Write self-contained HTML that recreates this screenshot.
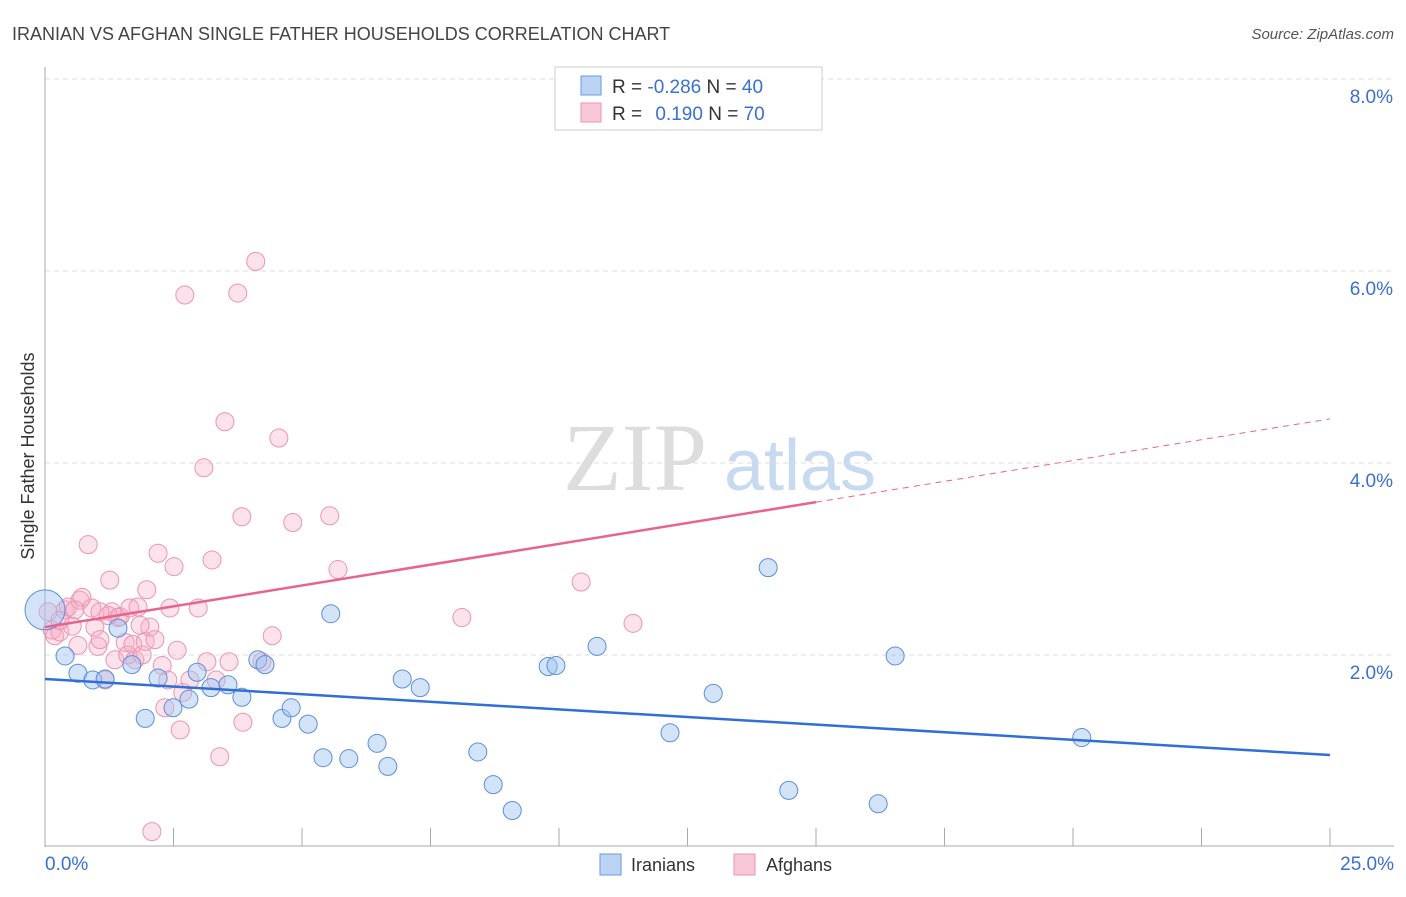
<!DOCTYPE html>
<html><head><meta charset="utf-8"><style>
body{margin:0;background:#fff;font-family:"Liberation Sans",sans-serif;}
svg text{font-family:"Liberation Sans",sans-serif;}
</style></head><body>
<svg id="chart" width="1406" height="892" viewBox="0 0 1406 892" xmlns="http://www.w3.org/2000/svg">
<text x="12" y="40" font-size="18" fill="#444">IRANIAN VS AFGHAN SINGLE FATHER HOUSEHOLDS CORRELATION CHART</text>
<text x="1394" y="39" font-size="15" fill="#555" text-anchor="end" font-style="italic">Source: ZipAtlas.com</text>
<g>
<text x="635" y="490" font-size="96" fill="#ddd" text-anchor="middle" font-family="Liberation Serif" style="font-family:'Liberation Serif',serif">ZIP</text>
<text x="800" y="490" font-size="72" fill="#c8daf0" text-anchor="middle">atlas</text>
</g>
<g id="grid"></g>
<g id="axes"></g>
<g id="marks"></g>
<text transform="translate(34,456) rotate(-90)" font-size="18" fill="#333" text-anchor="middle">Single Father Households</text>
<g>
<rect x="555" y="67" width="267" height="63" fill="#fff" stroke="#ccc"/>
<rect x="581" y="76" width="20" height="19" fill="#bcd4f4" stroke="#6a9ae0"/>
<rect x="581" y="103" width="20" height="19" fill="#f9c8d8" stroke="#ec94b2"/>
<text x="612" y="93" font-size="19" fill="#333">R = <tspan fill="#3a70d0">-0.286</tspan>   N = <tspan fill="#3a70d0">40</tspan></text>
<text x="612" y="120" font-size="19" fill="#333">R =  <tspan fill="#3a70d0" dx="8">0.190</tspan>   N = <tspan fill="#3a70d0">70</tspan></text>
</g>
<g>
<rect x="600" y="854" width="21" height="21" fill="#bcd4f4" stroke="#6a9ae0"/>
<text x="631" y="871" font-size="18" fill="#333">Iranians</text>
<rect x="734" y="854" width="21" height="21" fill="#f9c8d8" stroke="#ec94b2"/>
<text x="766" y="871" font-size="18" fill="#333">Afghans</text>
</g>
</svg>
<script>
const xTickLabels=["0.0%","25.0%"];
const yTicks=[2,4,6,8];
const yTickLabels=["2.0%","4.0%","6.0%","8.0%"];
const iraniansX=[0.39,0.64,0.93,1.17,1.42,1.69,1.95,2.20,2.49,2.80,2.96,3.23,3.56,3.83,4.14,4.28,4.61,4.79,5.12,5.41,5.56,5.91,6.46,6.67,6.95,7.30,8.42,8.72,9.09,9.79,9.94,10.74,12.16,13.00,14.07,14.47,16.21,16.54,20.17,0.0];
const iraniansY=[1.99,1.81,1.74,1.75,2.28,1.90,1.34,1.76,1.45,1.54,1.82,1.66,1.69,1.56,1.95,1.90,1.34,1.45,1.28,0.93,2.43,0.92,1.08,0.84,1.75,1.66,0.99,0.65,0.38,1.88,1.89,2.09,1.19,1.60,2.91,0.59,0.45,1.99,1.14,2.47];
const afghansX=[0.06,0.14,0.19,0.29,0.39,0.45,0.53,0.64,0.68,0.72,0.84,0.91,0.97,1.03,1.07,1.17,1.26,1.30,1.36,1.42,1.46,1.56,1.61,1.65,1.71,1.75,1.81,1.89,1.95,1.98,2.04,2.08,2.14,2.20,2.28,2.33,2.39,2.43,2.51,2.57,2.63,2.68,2.72,2.82,2.98,3.09,3.15,3.25,3.33,3.40,3.50,3.58,3.75,3.83,3.85,4.10,4.22,4.42,4.55,4.82,5.54,5.70,8.11,10.43,11.44,1.07,0.29,0.58,1.23,1.85];
const afghansY=[2.45,2.26,2.20,2.24,2.47,2.50,2.30,2.10,2.57,2.60,3.15,2.49,2.29,2.09,2.16,1.74,2.78,2.45,1.95,2.39,2.40,2.13,2.00,2.49,2.11,1.95,2.50,2.00,2.14,2.68,2.29,0.16,2.16,3.06,1.89,1.45,1.74,2.49,2.92,2.05,1.22,1.61,5.75,1.74,2.49,3.95,1.93,2.99,1.74,0.94,4.43,1.93,5.77,3.44,1.30,6.10,1.93,2.20,4.26,3.38,3.45,2.89,2.39,2.76,2.33,2.45,2.36,2.47,2.41,2.31];
const iraniansTrend=[1.75,0.958];
const afghansTrend=[2.29,4.46];
const trendSolidEnd=15;

const NS="http://www.w3.org/2000/svg";
function xs(v){return 45+v/25*1285;}
function ys(v){return 847-v*96;}
function mk(tag,attrs,parent){const e=document.createElementNS(NS,tag);for(const k in attrs)e.setAttribute(k,attrs[k]);parent.appendChild(e);return e;}
const grid=document.getElementById('grid'),axes=document.getElementById('axes'),marks=document.getElementById('marks');
yTicks.forEach((t,i)=>{
 const l=mk('line',{x1:45,x2:1394,y1:ys(t),y2:ys(t),stroke:'#ddd','stroke-dasharray':'5,4'},grid);
 
 
 const tx=mk('text',{x:1393,y:ys(t)+24,'font-size':19,fill:'#3a70d0','text-anchor':'end'},axes);
 tx.textContent=yTickLabels[i];
 
 
});
let a=mk('line',{x1:45,x2:45,y1:67,y2:847,stroke:'#aaa'},axes);


a=mk('line',{x1:45,x2:1394,y1:846,y2:846,stroke:'#aaa'},axes);


for(let i=1;i<=10;i++){
 const t=mk('line',{x1:xs(i*2.5),x2:xs(i*2.5),y1:828,y2:846,stroke:'#aaa'},axes);
 
 
}
[[0,'start',45],[25,'end',1394]].forEach((d,i)=>{
 const tx=mk('text',{x:d[2],y:870,'font-size':19,fill:'#3a70d0','text-anchor':d[1]},axes);
 tx.textContent=xTickLabels[i];
 
 
});
afghansX.forEach((x,i)=>{
 const c=mk('circle',{cx:xs(x),cy:ys(afghansY[i]),r:9,fill:'rgba(246,172,198,0.35)',stroke:'#eb94b2','stroke-width':1},marks);
 
 
});
iraniansX.forEach((x,i)=>{
 const c=mk('circle',{cx:xs(x),cy:ys(iraniansY[i]),r:(i===iraniansX.length-1?20:9),fill:'rgba(160,196,240,0.45)',stroke:'#5b8fd8','stroke-width':1},marks);
 
 
});
let t=mk('line',{x1:xs(0),y1:ys(iraniansTrend[0]),x2:xs(25),y2:ys(iraniansTrend[1]),stroke:'#2f6fd6','stroke-width':2.5},marks);


const pm=afghansTrend[0]+(afghansTrend[1]-afghansTrend[0])*trendSolidEnd/25;
t=mk('line',{x1:xs(0),y1:ys(afghansTrend[0]),x2:xs(trendSolidEnd),y2:ys(pm),stroke:'#e8638f','stroke-width':2.5},marks);


t=mk('line',{x1:xs(trendSolidEnd),y1:ys(pm),x2:xs(25),y2:ys(afghansTrend[1]),stroke:'#e8638f','stroke-width':1,'stroke-dasharray':'6,5'},marks);


</script>
</body></html>
